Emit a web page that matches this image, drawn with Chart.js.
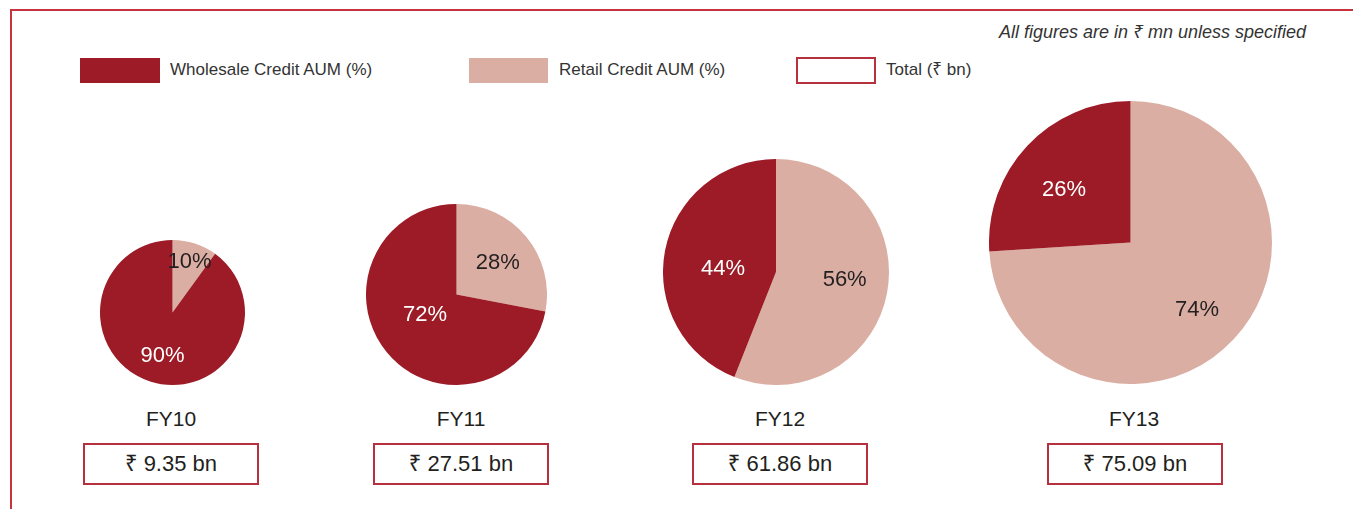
<!DOCTYPE html>
<html>
<head>
<meta charset="utf-8">
<script src="https://cdn.jsdelivr.net/npm/chart.js@4.4.1/dist/chart.umd.min.js"></script>
<style>
  html, body { margin: 0; padding: 0; background: #fff; }
  body { width: 1353px; height: 509px; position: relative; overflow: hidden;
         font-family: "Liberation Sans", Arial, "Noto Sans", sans-serif; color: #231f20; }
  .abs { position: absolute; }
  .lineTop { left: 10px; top: 9px; width: 1343px; height: 0; border-top: 2px solid #c7343f; }
  .lineLeft { left: 10px; top: 9px; width: 0; height: 500px; border-left: 2px solid #c7343f; }
  .note { right: 47px; top: 22px; font-size: 18px; line-height: 20px; font-style: italic; color: #333; white-space: nowrap; }
  .sw { height: 25px; top: 58px; }
  .lt { top: 60px; font-size: 17px; line-height: 20px; color: #333; white-space: nowrap; }
  .fy { font-size: 21px; line-height: 24px; width: 200px; text-align: center; top: 407px; }
  .tot { box-sizing: border-box; width: 176px; height: 42px; top: 443px; border: 2px solid #b5313d; font-size: 22px;
         line-height: 38px; text-align: center; white-space: nowrap; }
  canvas { position: absolute; }
</style>
</head>
<body>
<div class="abs lineTop"></div>
<div class="abs lineLeft"></div>
<div class="abs note">All figures are in ₹ mn unless specified</div>

<div class="abs sw" style="left:80px;width:80px;background:#9c1b27;"></div>
<div class="abs lt" id="lg1" style="left:170px;"></div>
<div class="abs sw" style="left:469px;width:79px;background:#dbaea3;"></div>
<div class="abs lt" id="lg2" style="left:559px;"></div>
<div class="abs sw" style="left:796px;width:80px;height:27px;top:57px;box-sizing:border-box;border:2px solid #b5313d;"></div>
<div class="abs lt" id="lg3" style="left:886px;"></div>

<div id="wrap"></div>

<script>
// ---- data ----
const years = ["FY10", "FY11", "FY12", "FY13"];
const retailPct = [10, 28, 56, 74];
const wholesalePct = [90, 72, 44, 26];
const totalsBn = ["9.35", "27.51", "61.86", "75.09"];
const seriesNames = ["Wholesale Credit AUM (%)", "Retail Credit AUM (%)", "Total (₹ bn)"];

// ---- layout (positions / sizes) ----
const pieCenterX = [172, 456.5, 776, 1130.5];
const pieCenterY = [312.5, 294.5, 272, 242.5];
const pieRadius = [72.5, 90.5, 113, 141.5];
// per slice [retail, wholesale]: fraction of radius, angle shift in degrees
const labelFactor = [[0.76, 0.59], [0.587, 0.405], [0.61, 0.47], [0.66, 0.608]];
const labelShift = [[0, -4.5], [0.5, 8.8], [-5.8, -5.4], [1.3, -3.9]];
const fyCenterX = [170.5, 460.5, 779.7, 1134.3];
const boxCenterX = [171, 460.7, 780, 1134.7];

const WHOLESALE = "#9c1b27";
const RETAIL = "#dbaea3";

document.getElementById("lg1").textContent = seriesNames[0];
document.getElementById("lg2").textContent = seriesNames[1];
document.getElementById("lg3").textContent = seriesNames[2];

const pctLabels = {
  id: "pctLabels",
  afterDatasetsDraw(chart, args, opts) {
    const ctx = chart.ctx;
    const meta = chart.getDatasetMeta(0);
    const ds = chart.data.datasets[0];
    ctx.save();
    ctx.font = "22px 'Liberation Sans', Arial, sans-serif";
    ctx.textAlign = "center";
    ctx.textBaseline = "alphabetic";
    meta.data.forEach((arc, i) => {
      const p = arc.getProps(["x", "y", "startAngle", "endAngle", "outerRadius"], true);
      const mid = (p.startAngle + p.endAngle) / 2 + opts.shifts[i] * Math.PI / 180;
      const f = opts.factors[i];
      const x = p.x + Math.cos(mid) * p.outerRadius * f;
      const y = p.y + Math.sin(mid) * p.outerRadius * f;
      ctx.fillStyle = opts.colors[i];
      ctx.fillText(ds.data[i] + "%", x, y + 8);
    });
    ctx.restore();
  }
};

const wrap = document.getElementById("wrap");
years.forEach((yr, k) => {
  const r = pieRadius[k];
  const size = Math.round(r * 2);
  const cv = document.createElement("canvas");
  cv.width = size; cv.height = size;
  cv.style.width = size + "px"; cv.style.height = size + "px";
  cv.style.left = Math.round(pieCenterX[k] - size / 2) + "px";
  cv.style.top = Math.round(pieCenterY[k] - size / 2) + "px";
  wrap.appendChild(cv);

  new Chart(cv.getContext("2d"), {
    type: "pie",
    data: {
      labels: [seriesNames[1], seriesNames[0]],
      datasets: [{
        data: [retailPct[k], wholesalePct[k]],
        backgroundColor: [RETAIL, WHOLESALE],
        borderWidth: 0
      }]
    },
    options: {
      responsive: false,
      animation: false,
      devicePixelRatio: 1,
      layout: { padding: 0 },
      plugins: {
        legend: { display: false },
        tooltip: { enabled: false },
        pctLabels: { factors: labelFactor[k], shifts: labelShift[k], colors: ["#231f20", "#ffffff"] }
      }
    },
    plugins: [pctLabels]
  });

  const fy = document.createElement("div");
  fy.className = "abs fy";
  fy.style.left = Math.round(fyCenterX[k] - 100) + "px";
  fy.textContent = yr;
  document.body.appendChild(fy);

  const bx = document.createElement("div");
  bx.className = "abs tot";
  bx.style.left = Math.round(boxCenterX[k] - 88) + "px";
  bx.textContent = "₹ " + totalsBn[k] + " bn";
  document.body.appendChild(bx);
});
</script>
</body>
</html>
